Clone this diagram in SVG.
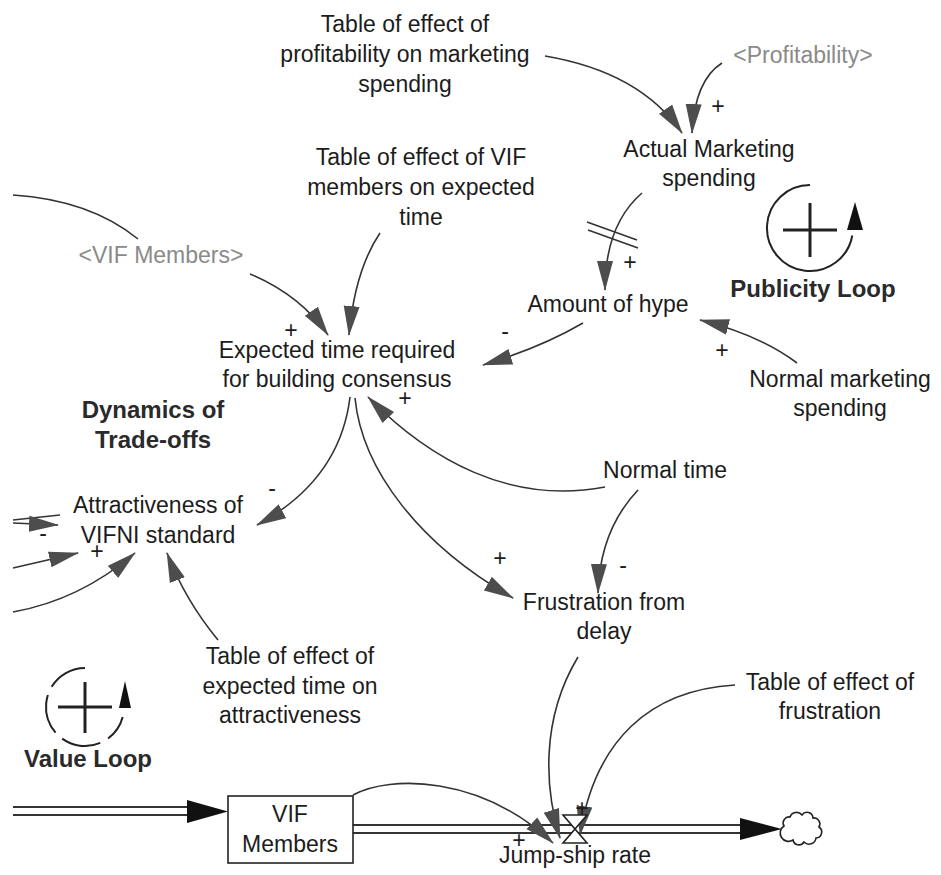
<svg xmlns="http://www.w3.org/2000/svg" width="941" height="875" viewBox="0 0 941 875">
  <defs>
    <style>
      .lbl { font-family: "Liberation Sans", Arial, sans-serif; font-size: 23px; fill: #1c1c1c; text-anchor: middle; }
      .ghost { fill: #8a8a8a; }
      .bold { font-weight: bold; fill: #2a2a2a; font-size: 24px; }
      .sign { font-family: "Liberation Sans", Arial, sans-serif; font-size: 23px; fill: #1c1c1c; text-anchor: middle; }
      .link { fill: none; stroke: #333; stroke-width: 1.6; marker-end: url(#head); }
      .plain { fill: none; stroke: #333; stroke-width: 1.6; }
      .pipeOut { fill: none; stroke: #333; stroke-width: 10; }
      .pipeIn { fill: none; stroke: #fff; stroke-width: 6; }
      .loop { fill: none; stroke: #222; stroke-width: 2; }
      .cross { fill: none; stroke: #222; stroke-width: 3; }
    </style>
    <marker id="head" markerUnits="userSpaceOnUse" markerWidth="30" markerHeight="18" viewBox="0 0 30 18" refX="29" refY="9" orient="auto">
      <path d="M0,1 L30,9 L0,17 Z" fill="#4d4d4d"/>
    </marker>
  </defs>

  <rect width="941" height="875" fill="#fff"/>

  <!-- material flow: inflow pipe, stock, outflow pipe, valve, sink -->
  <g id="flows">
    <line class="pipeOut" x1="13" y1="811" x2="192" y2="811"/>
    <line class="pipeIn" x1="11" y1="811" x2="192" y2="811"/>
    <polygon points="187,800 228,811.5 187,823" fill="#111"/>
    <line class="pipeOut" x1="353" y1="829" x2="745" y2="829"/>
    <line class="pipeIn" x1="353" y1="829" x2="745" y2="829"/>
    <polygon points="740,818 782,829 740,840" fill="#111"/>
    <path d="M784,826 a6,6 0 0 1 6,-9 a7,7 0 0 1 12,-2 a6,6 0 0 1 11,3 a6,6 0 0 1 6,9 a6,6 0 0 1 -3,11 a7,7 0 0 1 -12,4 a6,6 0 0 1 -11,-2 a6,6 0 0 1 -9,-14 z" fill="#fff" stroke="#222" stroke-width="1.6"/>
  </g>

  <g id="connectors">
    <!-- profitability table -> actual marketing -->
    <path class="link" d="M545,56 Q640,72 682,133"/>
    <!-- ghost profitability -> actual marketing -->
    <path class="link" d="M722,63 Q695,80 692,133"/>
    <!-- actual marketing -> amount of hype (delayed) -->
    <path class="link" d="M642,193 Q605,225 605,290"/>
    <line class="plain" x1="587" y1="222" x2="637" y2="240"/>
    <line class="plain" x1="588" y1="230" x2="638" y2="248"/>
    <!-- VIF table -> expected time -->
    <path class="link" d="M380,233 Q355,270 349,335"/>
    <!-- ghost VIF members -> expected time -->
    <path class="link" d="M250,274 Q300,295 328,335"/>
    <!-- incoming line ending at ghost VIF members -->
    <path class="plain" d="M13,195 Q90,200 138,239"/>
    <!-- amount of hype -> expected time -->
    <path class="link" d="M583,323 Q540,348 483,365"/>
    <!-- normal marketing spending -> amount of hype -->
    <path class="link" d="M797,363 Q760,335 700,320"/>
    <!-- normal time -> expected time -->
    <path class="link" d="M605,487 C510,505 430,460 368,397"/>
    <!-- normal time -> frustration -->
    <path class="link" d="M638,490 Q600,530 598,593"/>
    <!-- expected time -> attractiveness -->
    <path class="link" d="M350,397 Q340,480 257,525"/>
    <!-- expected time -> frustration -->
    <path class="link" d="M355,398 C362,470 420,545 513,598"/>
    <!-- attractiveness table -> attractiveness -->
    <path class="link" d="M218,640 Q185,600 167,553"/>
    <!-- links entering attractiveness from the left -->
    <line class="plain" x1="13" y1="520" x2="60" y2="515"/>
    <path class="link" d="M13,523 L58,525"/>
    <path class="link" d="M13,568 L78,553"/>
    <path class="link" d="M13,612 Q80,600 135,553"/>
    <!-- links into jump-ship rate -->
    <path class="link" d="M353,795 C390,775 480,775 553,843"/>
    <path class="link" d="M578,657 C540,720 545,790 560,838"/>
    <path class="link" d="M735,685 C650,690 595,740 580,835"/>
  </g>

  <!-- valve of jump-ship rate -->
  <g id="valve">
    <polygon points="563,815 587,815 563,843 587,843" fill="#fff" stroke="#222" stroke-width="1.6"/>
  </g>

  <!-- polarity signs -->
  <g id="polarities">
    <text class="sign" x="718" y="114">+</text>
    <text class="sign" x="630" y="270">+</text>
    <text class="sign" x="291" y="338">+</text>
    <text class="sign" x="505" y="339">-</text>
    <text class="sign" x="722" y="358">+</text>
    <text class="sign" x="405" y="406">+</text>
    <text class="sign" x="272" y="496">-</text>
    <text class="sign" x="500" y="566">+</text>
    <text class="sign" x="623" y="573">-</text>
    <text class="sign" x="43" y="541">-</text>
    <text class="sign" x="97" y="559">+</text>
    <text class="sign" x="519" y="848">+</text>
    <text class="sign" x="582" y="816">+</text>
  </g>

  <g id="table-profitability-marketing">
    <text class="lbl" x="405" y="32">Table of effect of</text>
    <text class="lbl" x="405" y="62">profitability on marketing</text>
    <text class="lbl" x="405" y="92">spending</text>
  </g>
  <g id="ghost-profitability">
    <text class="lbl ghost" x="803" y="63">&lt;Profitability&gt;</text>
  </g>
  <g id="actual-marketing-spending">
    <text class="lbl" x="709" y="157">Actual Marketing</text>
    <text class="lbl" x="709" y="186">spending</text>
  </g>
  <g id="table-vif-expected-time">
    <text class="lbl" x="421" y="165">Table of effect of VIF</text>
    <text class="lbl" x="421" y="195">members on expected</text>
    <text class="lbl" x="421" y="225">time</text>
  </g>
  <g id="ghost-vif-members">
    <text class="lbl ghost" x="161" y="263">&lt;VIF Members&gt;</text>
  </g>
  <g id="publicity-loop">
    <path class="loop" d="M810,185 A43,43 0 1 0 852.3,235.5"/>
    <polygon points="855,202 863,230 847,230" fill="#111"/>
    <line class="cross" x1="810" y1="203" x2="810" y2="257"/>
    <line class="cross" x1="783" y1="230" x2="837" y2="230"/>
    <text class="lbl bold" x="813" y="297">Publicity Loop</text>
  </g>
  <g id="amount-of-hype">
    <text class="lbl" x="608" y="312">Amount of hype</text>
  </g>
  <g id="expected-time">
    <text class="lbl" x="337" y="358">Expected time required</text>
    <text class="lbl" x="337" y="387">for building consensus</text>
  </g>
  <g id="normal-marketing-spending">
    <text class="lbl" x="840" y="387">Normal marketing</text>
    <text class="lbl" x="840" y="416">spending</text>
  </g>
  <g id="dynamics-of-tradeoffs">
    <text class="lbl bold" x="153" y="418">Dynamics of</text>
    <text class="lbl bold" x="153" y="448">Trade-offs</text>
  </g>
  <g id="normal-time">
    <text class="lbl" x="665" y="478">Normal time</text>
  </g>
  <g id="attractiveness">
    <text class="lbl" x="158" y="513">Attractiveness of</text>
    <text class="lbl" x="158" y="543">VIFNI standard</text>
  </g>
  <g id="frustration-from-delay">
    <text class="lbl" x="604" y="610">Frustration from</text>
    <text class="lbl" x="604" y="639">delay</text>
  </g>
  <g id="table-expected-time-attractiveness">
    <text class="lbl" x="290" y="664">Table of effect of</text>
    <text class="lbl" x="290" y="694">expected time on</text>
    <text class="lbl" x="290" y="723">attractiveness</text>
  </g>
  <g id="table-frustration">
    <text class="lbl" x="830" y="690">Table of effect of</text>
    <text class="lbl" x="830" y="719">frustration</text>
  </g>
  <g id="value-loop">
    <path class="loop" d="M85,668 A39,39 0 1 0 122.7,717" stroke-dasharray="40 9"/>
    <polygon points="125,681 131,708 119,708" fill="#111"/>
    <line class="cross" x1="85" y1="682" x2="85" y2="733"/>
    <line class="cross" x1="58" y1="707" x2="112" y2="707"/>
    <text class="lbl bold" x="88" y="767">Value Loop</text>
  </g>
  <g id="vif-members">
    <rect x="228" y="796" width="125" height="67" fill="#fff" stroke="#222" stroke-width="1.6"/>
    <text class="lbl" x="290" y="822">VIF</text>
    <text class="lbl" x="290" y="852">Members</text>
  </g>
  <g id="jump-ship-rate">
    <text class="lbl" x="575" y="863">Jump-ship rate</text>
  </g>
</svg>
